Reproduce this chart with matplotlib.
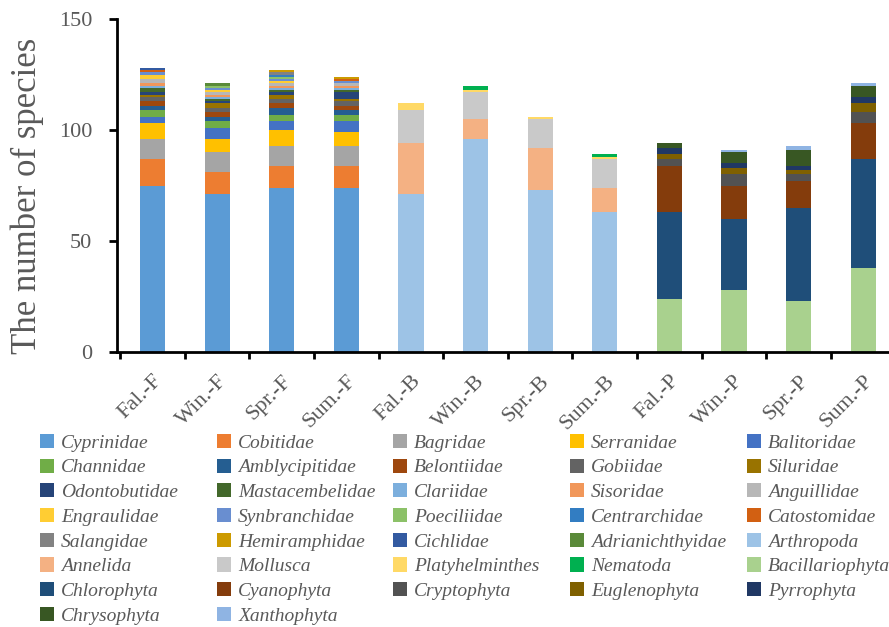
import numpy as np
import matplotlib
matplotlib.use("Agg")
import matplotlib.pyplot as plt
from matplotlib.patches import Patch

groups = ['Fal.-F', 'Win.-F', 'Spr.-F', 'Sum.-F',
          'Fal.-B', 'Win.-B', 'Spr.-B', 'Sum.-B',
          'Fal.-P', 'Win.-P', 'Spr.-P', 'Sum.-P']

# fish families, counts for Fal, Win, Spr, Sum
fish_names = ['Cyprinidae', 'Cobitidae', 'Bagridae', 'Serranidae', 'Balitoridae',
              'Channidae', 'Amblycipitidae', 'Belontiidae', 'Gobiidae', 'Siluridae',
              'Odontobutidae', 'Mastacembelidae', 'Clariidae', 'Sisoridae', 'Anguillidae',
              'Engraulidae', 'Synbranchidae', 'Poeciliidae', 'Centrarchidae', 'Catostomidae',
              'Salangidae', 'Hemiramphidae', 'Cichlidae', 'Adrianichthyidae']
fish_counts = [[75, 71, 74, 74], [12, 10, 10, 10], [9, 9, 9, 9], [7, 6, 7, 6],
               [3, 5, 4, 5], [3, 3, 3, 3], [2, 2, 3, 2], [2, 2, 2, 2],
               [2, 2, 2, 2], [1, 2, 2, 1], [1, 1, 1, 3], [2, 1, 1, 1],
               [1, 1, 1, 1], [1, 1, 1, 1], [2, 1, 1, 1], [2, 1, 1, 0],
               [1, 1, 1, 1], [0, 1, 1, 0], [0, 0, 1, 0], [1, 0, 0, 1],
               [0, 0, 1, 0], [0, 0, 1, 1], [1, 0, 0, 0], [0, 1, 0, 0]]

benthos_names = ['Arthropoda', 'Annelida', 'Mollusca', 'Platyhelminthes', 'Nematoda']
benthos_counts = [[71, 96, 73, 63], [23, 9, 19, 11], [15, 12, 13, 13],
                  [3, 1, 1, 1], [0, 2, 0, 1]]

phyto_names = ['Bacillariophyta', 'Chlorophyta', 'Cyanophyta', 'Cryptophyta',
               'Euglenophyta', 'Pyrrophyta', 'Chrysophyta', 'Xanthophyta']
phyto_counts = [[24, 28, 23, 38], [39, 32, 42, 49], [21, 15, 12, 16], [3, 5, 3, 5],
                [2, 3, 2, 4], [3, 2, 2, 3], [2, 5, 7, 5], [0, 1, 2, 1]]

colors = ['#5B9BD5', '#ED7D31', '#A5A5A5', '#FFC000', '#4472C4',
          '#70AD47', '#255E91', '#9E480E', '#636363', '#997300',
          '#264478', '#43682B', '#7CAFDD', '#F1975A', '#B7B7B7',
          '#FFCD33', '#698ED0', '#8CC168', '#327DC2', '#D26012',
          '#828282', '#CC9A00', '#335AA1', '#5A8A39',
          '#9DC3E6', '#F4B183', '#C9C9C9', '#FFD966', '#00B050',
          '#A9D18E', '#1F4E79', '#843C0C', '#525252', '#7F6000',
          '#203864', '#385723', '#8FB4E3']

names = fish_names + benthos_names + phyto_names
rows = []
for c in fish_counts:
    rows.append(list(c) + [0] * 8)
for c in benthos_counts:
    rows.append([0] * 4 + list(c) + [0] * 4)
for c in phyto_counts:
    rows.append([0] * 8 + list(c))
data = np.array(rows, dtype=float)

plt.rcParams['font.family'] = ['Liberation Serif', 'DejaVu Serif']

fig = plt.figure(figsize=(8.89, 6.27), dpi=100)
ax = fig.add_axes([0.1316, 0.4386, 0.8684, 0.531])

x = np.arange(len(groups))
bottom = np.zeros(len(groups))
for i, name in enumerate(names):
    ax.bar(x, data[i], 0.39, bottom=bottom, color=colors[i], label=name, linewidth=0)
    bottom += data[i]

ax.set_xlim(-0.55, 11.4)
ax.set_ylim(0, 150)
ax.set_yticks([0, 50, 100, 150])
ax.set_ylabel('The number of species', fontsize=25, color='#595959')
ax.yaxis.set_label_coords(-0.094, 0.47)
ax.tick_params(axis='y', labelsize=16, labelcolor='#595959', width=2, length=6,
               direction='out', pad=12)

ax.set_xticks(x)
ax.set_xticklabels(groups, rotation=45, ha='right', va='top', rotation_mode='anchor',
                   fontsize=16, color='#595959')
ax.tick_params(axis='x', which='major', length=0, pad=14)
ax.set_xticks(np.arange(-0.5, 11.5, 1), minor=True)
ax.tick_params(axis='x', which='minor', length=5, width=2)

for s in ['top', 'right']:
    ax.spines[s].set_visible(False)
for s in ['left', 'bottom']:
    ax.spines[s].set_linewidth(2)

# legend laid out row by row in 5 equal columns
ncol = 5
col_x = [40, 217, 393, 570, 747]
for k in range(ncol):
    idx = list(range(k, len(names), ncol))
    handles = [Patch(facecolor=colors[i], edgecolor='none') for i in idx]
    labels = [names[i] for i in idx]
    leg = fig.legend(handles, labels, loc='upper left',
                     bbox_to_anchor=((col_x[k] - 6) / 889, 1 - 428 / 627),
                     frameon=False, prop={'style': 'italic', 'size': 14},
                     handlelength=0.75, handleheight=0.75, handletextpad=0.35,
                     labelspacing=0.35, borderaxespad=0, borderpad=0.3)
    for t in leg.get_texts():
        t.set_color('#595959')

fig.savefig('out.png', dpi=100)
